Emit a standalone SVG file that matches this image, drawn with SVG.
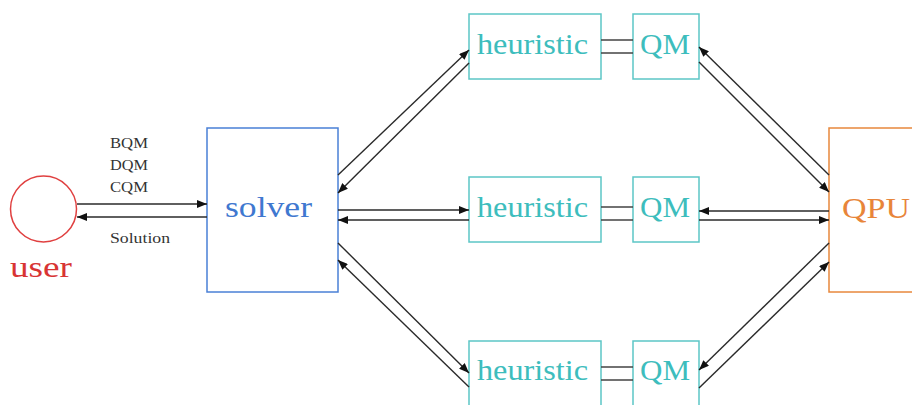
<svg xmlns="http://www.w3.org/2000/svg" width="912" height="405" viewBox="0 0 912 405">
<style>
.t{font-family:"Liberation Serif","Times New Roman",serif}
.teal{fill:none;stroke:#5cc6c6;stroke-width:1.5}
.tt{fill:#3dbdbd;font-size:30px}
.c{stroke:#2a2a2a;stroke-width:1.4;fill:none}
.c.a{marker-end:url(#ah)}
.lbl{font-size:14.5px;fill:#333}
.dbl{stroke:#444;stroke-width:1.6}
</style>
<defs>
<marker id="ah" markerUnits="userSpaceOnUse" markerWidth="10" markerHeight="8" refX="10" refY="4" orient="auto">
<path d="M0,0 L10,4 L0,8 z" fill="#111"/>
</marker>
</defs>
<rect width="912" height="405" fill="#fff"/>
<g id="user">
<circle cx="43.5" cy="209" r="33" fill="none" stroke="#e04040" stroke-width="1.5"/>
<text class="t" x="10" y="277" font-size="30" fill="#d83434" textLength="62" lengthAdjust="spacingAndGlyphs">user</text>
</g>
<g id="solver">
<rect x="207" y="128" width="131" height="164" fill="none" stroke="#4a80d6" stroke-width="1.5"/>
<text class="t" x="225" y="217" font-size="30" fill="#3f78d0" textLength="87" lengthAdjust="spacingAndGlyphs">solver</text>
</g>
<g id="heuristic1">
<rect class="teal" x="469" y="14" width="132" height="65"/>
<text class="t tt" x="477" y="54" textLength="111" lengthAdjust="spacingAndGlyphs">heuristic</text>
</g>
<g id="qm1">
<rect class="teal" x="633" y="14" width="66" height="65"/>
<text class="t tt" x="640" y="54" textLength="50" lengthAdjust="spacingAndGlyphs">QM</text>
</g>
<g id="heuristic2">
<rect class="teal" x="469" y="177" width="132" height="65"/>
<text class="t tt" x="477" y="217" textLength="111" lengthAdjust="spacingAndGlyphs">heuristic</text>
</g>
<g id="qm2">
<rect class="teal" x="633" y="177" width="66" height="65"/>
<text class="t tt" x="640" y="217" textLength="50" lengthAdjust="spacingAndGlyphs">QM</text>
</g>
<g id="heuristic3">
<rect class="teal" x="469" y="341" width="132" height="66"/>
<text class="t tt" x="477" y="380" textLength="111" lengthAdjust="spacingAndGlyphs">heuristic</text>
</g>
<g id="qm3">
<rect class="teal" x="633" y="341" width="66" height="66"/>
<text class="t tt" x="640" y="380" textLength="50" lengthAdjust="spacingAndGlyphs">QM</text>
</g>
<g id="qpu">
<rect x="829" y="128" width="131" height="164" fill="none" stroke="#e8883c" stroke-width="1.5"/>
<text class="t" x="842" y="218" font-size="30" fill="#e8853a" textLength="68" lengthAdjust="spacingAndGlyphs">QPU</text>
</g>
<g id="connectors">
<text class="t lbl" x="110" y="148" textLength="38" lengthAdjust="spacingAndGlyphs">BQM</text>
<text class="t lbl" x="110" y="170" textLength="38" lengthAdjust="spacingAndGlyphs">DQM</text>
<text class="t lbl" x="110" y="192" textLength="38" lengthAdjust="spacingAndGlyphs">CQM</text>
<text class="t lbl" x="110" y="243" textLength="60" lengthAdjust="spacingAndGlyphs">Solution</text>
<path class="c a" d="M77,204 H207"/>
<path class="c a" d="M207,217 H77"/>
<path class="c a" d="M338,175 L469,50"/>
<path class="c a" d="M469,63 L338,193"/>
<path class="c a" d="M338,210 H469"/>
<path class="c a" d="M469,220 H338"/>
<path class="c a" d="M338,243 L469,373"/>
<path class="c a" d="M469,387 L338,260"/>
<path class="c a" d="M829,175 L699,47"/>
<path class="c a" d="M699,62 L829,192"/>
<path class="c a" d="M829,211 H699"/>
<path class="c a" d="M699,220 H829"/>
<path class="c a" d="M829,243 L699,370"/>
<path class="c a" d="M699,388 L829,262"/>
<path class="dbl" d="M601,40 H633 M601,53 H633"/>
<path class="dbl" d="M601,207 H633 M601,220 H633"/>
<path class="dbl" d="M601,367 H633 M601,380 H633"/>
</g>
</svg>
